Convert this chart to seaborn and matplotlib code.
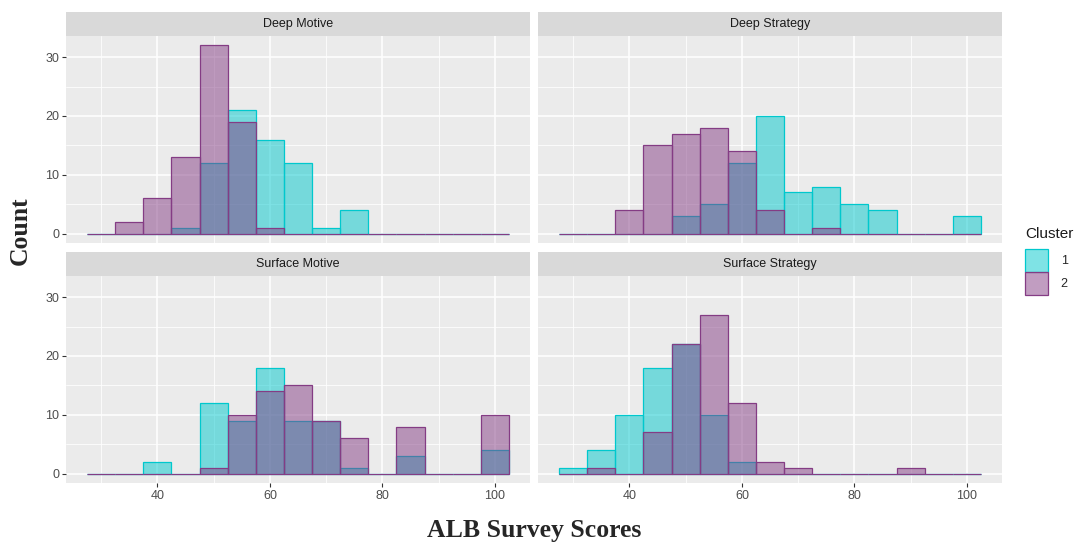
import pandas as pd
import seaborn as sns
import matplotlib.pyplot as plt
from matplotlib.colors import to_rgba
from matplotlib.patches import Patch
from matplotlib.ticker import MultipleLocator

scales = ["Deep Motive", "Deep Strategy", "Surface Motive", "Surface Strategy"]
clusters = ["1", "2"]
bin_centers = [30, 35, 40, 45, 50, 55, 60, 65, 70, 75, 80, 85, 90, 95, 100]

# counts per 5-point bin
deep_motive_1 = [0, 0, 0, 1, 12, 21, 16, 12, 1, 4, 0, 0, 0, 0, 0]
deep_motive_2 = [0, 2, 6, 13, 32, 19, 1, 0, 0, 0, 0, 0, 0, 0, 0]
deep_strategy_1 = [0, 0, 0, 0, 3, 5, 12, 20, 7, 8, 5, 4, 0, 0, 3]
deep_strategy_2 = [0, 0, 4, 15, 17, 18, 14, 4, 0, 1, 0, 0, 0, 0, 0]
surface_motive_1 = [0, 0, 2, 0, 12, 9, 18, 9, 9, 1, 0, 3, 0, 0, 4]
surface_motive_2 = [0, 0, 0, 0, 1, 10, 14, 15, 9, 6, 0, 8, 0, 0, 10]
surface_strategy_1 = [1, 4, 10, 18, 22, 10, 2, 0, 0, 0, 0, 0, 0, 0, 0]
surface_strategy_2 = [0, 1, 0, 7, 22, 27, 12, 2, 1, 0, 0, 0, 1, 0, 0]

counts = {
    "Deep Motive": [deep_motive_1, deep_motive_2],
    "Deep Strategy": [deep_strategy_1, deep_strategy_2],
    "Surface Motive": [surface_motive_1, surface_motive_2],
    "Surface Strategy": [surface_strategy_1, surface_strategy_2],
}

rows = []
for scale in scales:
    for cl, cnt in zip(clusters, counts[scale]):
        for x, n in zip(bin_centers, cnt):
            rows.append((scale, cl, x, n))
df = pd.DataFrame(rows, columns=["Scale", "Cluster", "Score", "Count"])

colors = {"1": "#00C8CD", "2": "#843C84"}

sns.set_style("darkgrid", {"axes.facecolor": "#EBEBEB", "grid.color": "white"})
plt.rcParams["font.family"] = ["Liberation Sans", "DejaVu Sans"]

W, H = 1075, 545
fig = plt.figure(figsize=(W / 100, H / 100), dpi=100)

lefts = [66, 538]
tops = [36, 276]
pw, ph, sh = 464, 207, 24

for i, scale in enumerate(scales):
    r, c = divmod(i, 2)
    x0, y0 = lefts[c], tops[r]
    ax = fig.add_axes([x0 / W, 1 - (y0 + ph) / H, pw / W, ph / H])
    sub = df[df.Scale == scale]
    for cl in clusters:
        sns.histplot(data=sub[sub.Cluster == cl], x="Score", weights="Count",
                     binwidth=5, binrange=(27.5, 102.5),
                     facecolor=to_rgba(colors[cl], 0.5), edgecolor=colors[cl],
                     linewidth=0.9, ax=ax)
    ax.set_xlim(23.75, 106.25)
    ax.set_ylim(-1.6, 33.6)
    ax.set_xlabel("")
    ax.set_ylabel("")
    ax.xaxis.set_major_locator(MultipleLocator(20))
    ax.xaxis.set_minor_locator(MultipleLocator(10))
    ax.yaxis.set_major_locator(MultipleLocator(10))
    ax.yaxis.set_minor_locator(MultipleLocator(5))
    ax.grid(which="major", color="white", linewidth=1.1)
    ax.grid(which="minor", color="white", linewidth=0.55)
    ax.set_axisbelow(True)
    for s in ax.spines.values():
        s.set_visible(False)
    ax.tick_params(which="major", bottom=True, left=True, length=3, width=0.8,
                   color="#333333", labelsize=9, labelcolor="#4D4D4D", pad=2)
    ax.tick_params(which="minor", bottom=False, left=False, length=0)
    if r == 0:
        ax.tick_params(axis="x", which="major", bottom=False, labelbottom=False)
    if c == 1:
        ax.tick_params(axis="y", which="major", left=False, labelleft=False)

    sax = fig.add_axes([x0 / W, 1 - y0 / H, pw / W, sh / H])
    sax.set_facecolor("#D9D9D9")
    sax.set_xticks([])
    sax.set_yticks([])
    for s in sax.spines.values():
        s.set_visible(False)
    sax.text(0.5, 0.5, scale, ha="center", va="center", fontsize=9,
             color="#1A1A1A", transform=sax.transAxes)

fig.text(534 / W, 1 - 530 / H, "ALB Survey Scores", ha="center", va="center",
         family="Liberation Serif", weight="bold", fontsize=18.5)
fig.text(20 / W, 1 - 231 / H, "Count", ha="center", va="center", rotation=90,
         family="Liberation Serif", weight="bold", fontsize=18.5)

# legend: title as text, keys below it
fig.text(1025 / W, 1 - 234 / H, "Cluster", ha="left", va="center", fontsize=11,
         color="#1A1A1A")
handles = [Patch(facecolor=to_rgba(colors[cl], 0.5), edgecolor=colors[cl], linewidth=0.9)
           for cl in clusters]
leg = fig.legend(handles, clusters, loc="upper left",
                 bbox_to_anchor=(1025 / W, 1 - 249 / H), frameon=False,
                 fontsize=9, handlelength=1.85, handleheight=2.45,
                 handletextpad=1.0, labelspacing=0.0, borderpad=0, borderaxespad=0)

fig.savefig("out.png", dpi=100)
